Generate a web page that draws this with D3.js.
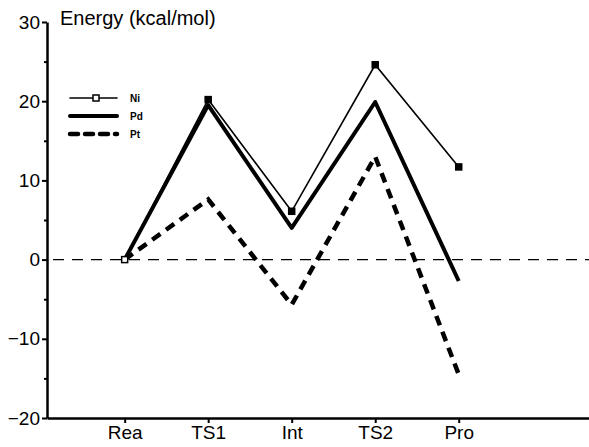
<!DOCTYPE html>
<html>
<head>
<meta charset="utf-8">
<script src="https://cdn.jsdelivr.net/npm/d3@7"></script>
<style>
  body { margin: 0; background: #fff; }
  text { font-family: "Liberation Sans", Arial, sans-serif; fill: #000; }
</style>
</head>
<body>
<svg id="chart" width="589" height="447"></svg>
<script>
// data
const stages = ["Rea", "TS1", "Int", "TS2", "Pro"];
const ni = [0, 20.2, 6.1, 24.6, 11.7];
const pd = [0, 19.5, 4.0, 19.9, -2.7];
const pt = [0, 7.6, -5.7, 13.0, -14.5];
const yTicks = [-20, -10, 0, 10, 20, 30];
const yMinor = [-15, -5, 5, 15, 25];

const svg = d3.select("#chart");

// x: category index, a bit of space before Rea like the original
const x = d3.scaleLinear().domain([-0.93, 5.56]).range([47, 589]);
const y = d3.scaleLinear().domain([-20, 30]).range([418, 22]);

// axes
const yAxis = svg.append("g").attr("transform", "translate(47,0)")
    .call(d3.axisLeft(y).tickValues(yTicks).tickSize(5).tickSizeOuter(0).tickPadding(2));
yAxis.select(".domain").attr("stroke-width", 2.5);
yAxis.selectAll(".tick line").attr("stroke-width", 2);
yAxis.selectAll(".tick text").attr("font-size", 19);

svg.append("g").attr("transform", "translate(47,0)")
    .call(d3.axisLeft(y).tickValues(yMinor).tickSize(3).tickFormat(""))
    .call(g => g.select(".domain").remove())
    .selectAll(".tick line").attr("stroke-width", 2);

const xAxis = svg.append("g").attr("transform", "translate(0,418)")
    .call(d3.axisBottom(x).tickValues(d3.range(stages.length)).tickFormat(i => stages[i])
        .tickSize(5).tickSizeOuter(0).tickPadding(3));
xAxis.select(".domain").attr("stroke-width", 2.5);
xAxis.selectAll(".tick line").attr("stroke-width", 2);
xAxis.selectAll(".tick text").attr("font-size", 19);

// zero reference
svg.append("line")
    .attr("x1", 53).attr("x2", 589)
    .attr("y1", y(0)).attr("y2", y(0))
    .attr("stroke", "#000").attr("stroke-width", 1.2)
    .attr("stroke-dasharray", "11,8");

// title
svg.append("text").attr("x", 60).attr("y", 25).attr("font-size", 20)
    .text("Energy (kcal/mol)");

const line = d3.line().x((d, i) => x(i)).y(d => y(d));

svg.append("path").datum(pt).attr("d", line)
    .attr("fill", "none").attr("stroke", "#000").attr("stroke-width", 4.5)
    .attr("stroke-dasharray", "10,7");
svg.append("path").datum(pd).attr("d", line)
    .attr("fill", "none").attr("stroke", "#000").attr("stroke-width", 4)
    .attr("stroke-linejoin", "round");
svg.append("path").datum(ni).attr("d", line)
    .attr("fill", "none").attr("stroke", "#000").attr("stroke-width", 1.6);

svg.selectAll(".ni-pt").data(ni).enter().append("rect")
    .attr("x", (d, i) => x(i) - 3).attr("y", d => y(d) - 3)
    .attr("width", 6).attr("height", 6)
    .attr("fill", (d, i) => i === 0 ? "#fff" : "#000")
    .attr("stroke", "#000").attr("stroke-width", 1.5);

// legend
const legend = [
    {name: "Ni", w: 1.6, dash: null, y: 98},
    {name: "Pd", w: 4, dash: null, y: 116},
    {name: "Pt", w: 4.5, dash: "8,7", y: 134}
];
legend.forEach(l => {
    svg.append("line").attr("x1", 70).attr("x2", 117)
        .attr("y1", l.y).attr("y2", l.y)
        .attr("stroke", "#000").attr("stroke-width", l.w)
        .attr("stroke-linecap", "round")
        .attr("stroke-dasharray", l.dash);
    svg.append("text").attr("x", 130).attr("y", l.y + 4)
        .attr("font-size", 10).attr("font-weight", "bold").text(l.name);
});
svg.append("rect").attr("x", 93).attr("y", 95).attr("width", 6).attr("height", 6)
    .attr("fill", "#fff").attr("stroke", "#000").attr("stroke-width", 1.5);
</script>
</body>
</html>
